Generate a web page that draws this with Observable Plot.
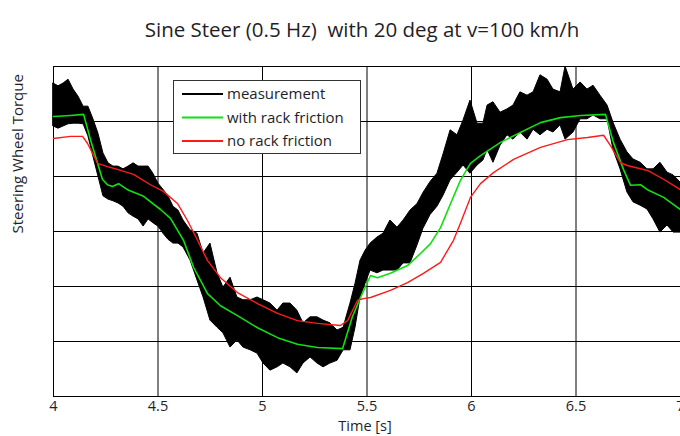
<!DOCTYPE html>
<html>
<head>
<meta charset="utf-8">
<script src="https://cdn.jsdelivr.net/npm/d3@7"></script>
<script src="https://cdn.jsdelivr.net/npm/@observablehq/plot@0.6"></script>
<style>
  html, body { margin: 0; padding: 0; background: white; }
</style>
</head>
<body>
<div id="chart"></div>
<script>
// ---- Text ----
const title = "Sine Steer (0.5 Hz)  with 20 deg at v=100 km/h";
const xLabel = "Time [s]";
const yLabel = "Steering Wheel Torque";
const seriesNames = ["measurement", "with rack friction", "no rack friction"];
const seriesColors = ["#000000", "#10e010", "#ff1a1a"];

// ---- Axes ----
const xTicks = [4, 4.5, 5, 5.5, 6, 6.5, 7];
const yGrid = [1, 2, 3, 4, 5];

// ---- Measurement (noisy) band: time, upper and lower envelope ----
const measT = [4.000,4.024,4.048,4.072,4.096,4.120,4.144,4.167,4.191,4.215,4.239,4.263,4.287,4.311,4.335,4.359,4.383,4.407,4.431,4.455,4.478,4.502,4.526,4.550,4.574,4.598,4.622,4.656,4.689,4.718,4.751,4.785,4.813,4.847,4.880,4.909,4.943,4.976,5.005,5.038,5.072,5.100,5.134,5.167,5.196,5.230,5.263,5.292,5.325,5.359,5.388,5.421,5.445,5.469,5.493,5.517,5.550,5.579,5.612,5.646,5.675,5.708,5.742,5.770,5.804,5.837,5.866,5.900,5.933,5.962,5.995,6.029,6.057,6.077,6.105,6.139,6.172,6.201,6.234,6.268,6.297,6.330,6.364,6.392,6.426,6.450,6.488,6.522,6.555,6.584,6.617,6.651,6.679,6.713,6.746,6.775,6.809,6.842,6.871,6.904,6.938,6.967,7.000];
const measHi = [5.69,5.64,5.69,5.76,5.58,5.45,5.27,5.27,5.04,4.78,4.42,4.24,4.18,4.18,4.13,4.18,4.24,4.18,4.18,4.18,4.05,3.87,3.76,3.64,3.45,3.38,3.20,3.02,2.96,2.60,2.78,2.24,1.98,2.16,1.80,1.75,1.75,1.80,1.75,1.69,1.56,1.69,1.69,1.56,1.33,1.44,1.44,1.38,1.33,1.20,1.25,1.69,2.05,2.47,2.65,2.78,2.89,2.96,3.20,3.07,3.20,3.38,3.50,3.70,3.90,4.05,4.40,4.84,4.75,5.02,5.38,4.96,4.96,5.29,5.35,5.16,5.22,5.29,5.53,5.47,5.53,5.84,5.76,5.58,5.53,6.00,5.58,5.71,5.58,5.65,5.47,5.29,4.98,4.67,4.44,4.31,4.25,4.13,4.13,4.25,4.07,4.02,3.89];
const measLo = [4.91,4.87,4.91,4.95,4.96,4.96,4.95,4.73,4.36,4.00,3.64,3.58,3.55,3.51,3.45,3.33,3.27,3.22,3.09,3.22,3.15,3.09,2.96,2.85,2.78,2.78,2.71,2.47,2.11,1.80,1.38,1.25,1.15,0.89,1.02,0.89,0.84,0.78,0.60,0.47,0.53,0.60,0.53,0.42,0.60,0.71,0.60,0.53,0.60,0.65,0.84,0.84,1.25,1.80,2.05,2.29,2.24,2.29,2.29,2.29,2.42,2.42,2.75,3.05,3.30,3.45,3.65,3.93,4.07,4.20,4.05,4.20,4.29,4.49,4.25,4.56,4.75,4.67,4.80,4.67,4.85,4.75,4.85,4.80,4.93,4.67,4.80,5.04,5.04,5.11,5.04,5.04,4.49,4.13,3.71,3.53,3.47,3.40,3.22,2.98,3.11,2.98,2.98];

// ---- Simulation with rack friction ----
const withT = [4.000,4.081,4.144,4.177,4.211,4.234,4.258,4.282,4.311,4.354,4.431,4.512,4.560,4.622,4.670,4.737,4.799,4.880,4.976,5.072,5.167,5.263,5.383,5.430,5.469,5.517,5.550,5.612,5.694,5.756,5.804,5.852,5.900,5.947,5.995,6.043,6.139,6.234,6.330,6.426,6.522,6.641,6.679,6.727,6.761,6.809,6.842,6.919,7.000];
const withV = [5.09,5.11,5.13,4.67,4.24,3.95,3.85,3.82,3.87,3.76,3.64,3.40,3.24,2.84,2.35,1.87,1.65,1.47,1.25,1.07,0.95,0.89,0.87,1.45,1.80,2.20,2.16,2.24,2.38,2.60,2.78,3.07,3.51,3.93,4.24,4.38,4.62,4.80,4.98,5.07,5.11,5.13,4.62,4.13,3.84,3.85,3.76,3.62,3.40];

// ---- Simulation without rack friction ----
const noT = [4.000,4.081,4.139,4.163,4.187,4.211,4.258,4.306,4.383,4.464,4.526,4.593,4.641,4.689,4.737,4.799,4.880,4.976,5.072,5.167,5.263,5.373,5.407,5.455,5.483,5.517,5.612,5.694,5.770,5.852,5.914,5.947,5.995,6.043,6.105,6.201,6.330,6.459,6.555,6.632,6.665,6.713,6.746,6.842,6.919,7.000];
const noV = [4.69,4.73,4.73,4.60,4.42,4.24,4.18,4.13,4.04,3.85,3.73,3.51,3.20,2.84,2.47,2.16,1.89,1.69,1.51,1.38,1.33,1.29,1.38,1.75,1.78,1.80,1.93,2.07,2.24,2.44,2.84,3.15,3.62,3.87,4.07,4.31,4.53,4.67,4.71,4.75,4.56,4.25,4.20,4.11,3.95,3.76];

const meas = measT.map((t, i) => ({t, hi: measHi[i], lo: measLo[i]}));
const withRack = withT.map((t, i) => ({t, v: withV[i]}));
const noRack = noT.map((t, i) => ({t, v: noV[i]}));

const font = "'Open Sans', 'DejaVu Sans', sans-serif";
const textColor = "#1e1e2a";

const svg = Plot.plot({
  width: 680,
  height: 436,
  marginTop: 66,
  marginBottom: 40,
  marginLeft: 53,
  marginRight: 0,
  style: {fontFamily: font, fontSize: "14.5px", color: textColor, background: "white"},
  x: {domain: [4, 7], axis: null},
  y: {domain: [0, 6], axis: null},
  marks: [
    Plot.gridX(xTicks, {stroke: "black", strokeOpacity: 1, strokeWidth: 1}),
    Plot.gridY(yGrid, {stroke: "black", strokeOpacity: 1, strokeWidth: 1}),
    Plot.ruleY([0, 6], {stroke: "black", strokeWidth: 1}),
    Plot.ruleX([4], {stroke: "black", strokeWidth: 1}),
    Plot.areaY(meas, {x: "t", y1: "lo", y2: "hi", fill: seriesColors[0], stroke: seriesColors[0], strokeWidth: 1}),
    Plot.line(withRack, {x: "t", y: "v", stroke: seriesColors[1], strokeWidth: 1.6}),
    Plot.line(noRack, {x: "t", y: "v", stroke: seriesColors[2], strokeWidth: 1.4}),
    Plot.axisX(xTicks, {tickSize: 0, tickPadding: 4, label: null, fontSize: 14.5, fill: textColor, tickFormat: d => String(d)}),
    Plot.text([xLabel], {frameAnchor: "bottom", dx: -2, dy: 34, fontSize: 14.5, fill: textColor}),
    Plot.text([yLabel], {frameAnchor: "left", rotate: -90, dx: -35, dy: 2, fontSize: 15, fill: textColor, style: "letter-spacing:0.6px"}),
    Plot.text([title], {frameAnchor: "top", dx: -5, dy: -44, fontSize: 20.5, fill: textColor})
  ]
});

// Legend box inside the plot
const lg = d3.select(svg).append("g").attr("font-family", font).attr("font-size", 15)
  .attr("text-anchor", "start");
lg.append("rect").attr("x", 173.5).attr("y", 80.5).attr("width", 187).attr("height", 73)
  .attr("fill", "white").attr("stroke", "#333").attr("stroke-width", 1);
seriesNames.forEach((name, i) => {
  const yy = 94 + i * 23.5;
  lg.append("line").attr("x1", 182).attr("x2", 223).attr("y1", yy).attr("y2", yy)
    .attr("stroke", seriesColors[i]).attr("stroke-width", 2);
  lg.append("text").attr("x", 227).attr("y", yy).attr("dy", "0.35em")
    .attr("text-anchor", "start").attr("fill", textColor).text(name);
});

document.getElementById("chart").appendChild(svg);
</script>
</body>
</html>
